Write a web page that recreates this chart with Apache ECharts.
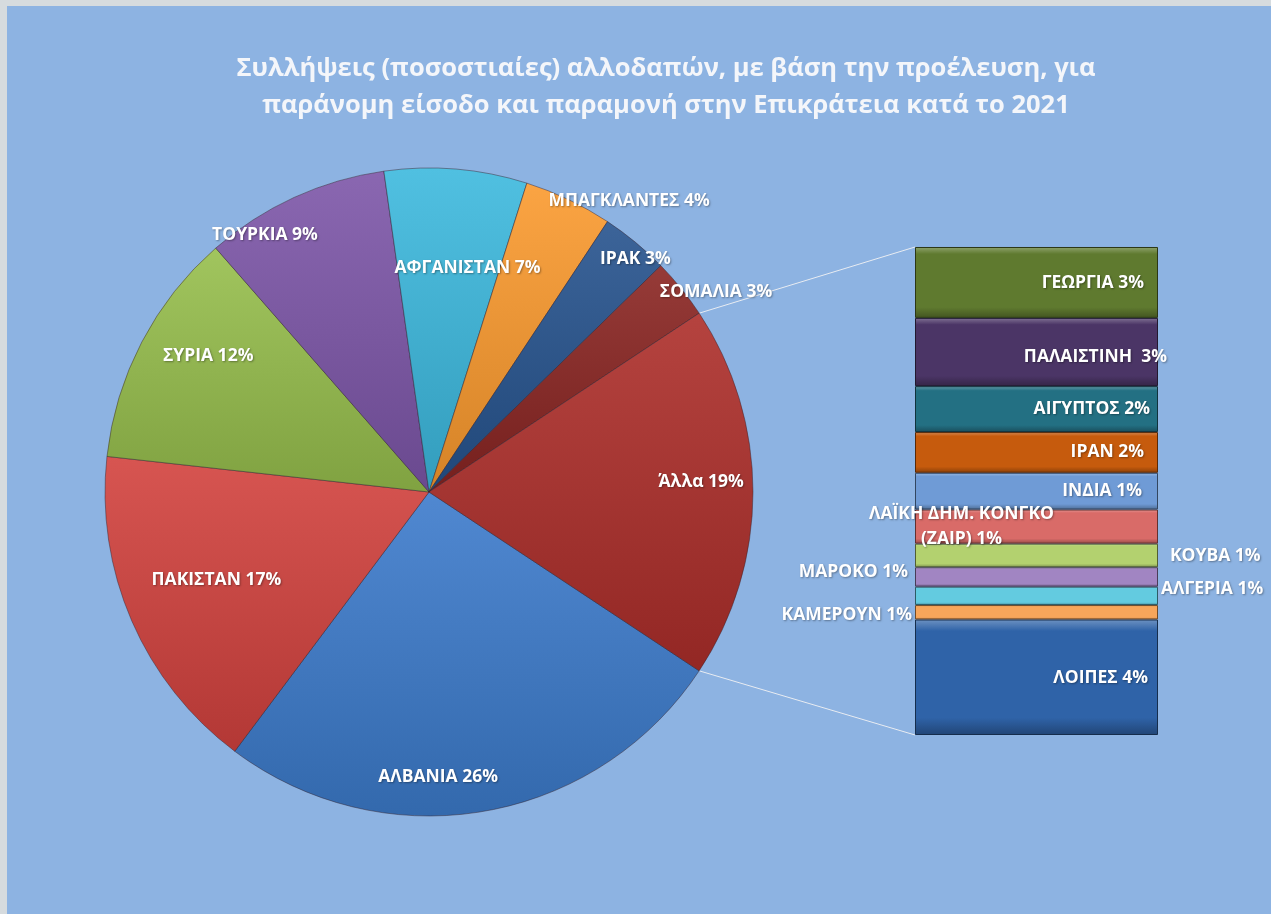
<!DOCTYPE html>
<html>
<head>
<meta charset="utf-8">
<style type="text/css">
body { margin: 0; background: #d6dbde; }
#main { position: absolute; left: 7px; top: 6px; width: 1264px; height: 908px; }
</style>
<script type="text/javascript" src="https://cdn.jsdelivr.net/npm/echarts@6/dist/echarts.min.js"></script>
</head>
<body>
<div id="main"></div>
<script type="text/javascript">
// main pie (percent of all arrests)
var pieNames = ['ΑΛΒΑΝΙΑ', 'ΠΑΚΙΣΤΑΝ', 'ΣΥΡΙΑ', 'ΤΟΥΡΚΙΑ', 'ΑΦΓΑΝΙΣΤΑΝ', 'ΜΠΑΓΚΛΑΝΤΕΣ', 'ΙΡΑΚ', 'ΣΟΜΑΛΙΑ'];
var pieValues = [25.9, 16.5, 11.8, 9.2, 7.1, 4.4, 3.4, 3.0];
var otherName = 'Άλλα';
// breakdown of "Άλλα", top to bottom
var subNames = ['ΓΕΩΡΓΙΑ', 'ΠΑΛΑΙΣΤΙΝΗ ', 'ΑΙΓΥΠΤΟΣ', 'ΙΡΑΝ', 'ΙΝΔΙΑ', 'ΛΑΪΚΗ ΔΗΜ. ΚΟΝΓΚΟ (ΖΑΙΡ)', 'ΚΟΥΒΑ', 'ΜΑΡΟΚΟ', 'ΑΛΓΕΡΙΑ', 'ΚΑΜΕΡΟΥΝ', 'ΛΟΙΠΕΣ'];
var subValues = [2.7, 2.6, 1.75, 1.55, 1.4, 1.3, 0.9, 0.74, 0.7, 0.55, 4.4];
var titleLines = ['Συλλήψεις (ποσοστιαίες) αλλοδαπών, με βάση την προέλευση, για',
	'παράνομη είσοδο και παραμονή στην Επικράτεια κατά το 2021'];

// look
var pieColors = ['#3c7bcc', '#d2423e', '#97bf4c', '#7d56a8', '#3cb9de', '#fa9a2e', '#26538e', '#8a2522', '#ad2e2a'];
var subColors = ['#5f7a2f', '#4b3566', '#237083', '#c65b0d', '#6f9bd6', '#d96b68', '#b3d16f', '#a185c2', '#63cbe0', '#f7a65b', '#2f63a8'];
// label spot in the pie: [radius factor, angle shift in degrees]
var pieLabelSpot = [[0.88, 8], [0.71, 1], [0.8, 4], [0.94, -8], [0.7, 5], [1.09, 9], [0.96, 2], [1.08, 4], [0.84, -2]];
// label spot on the bar: [position, distance, dx, dy]
var subLabelSpot = [
	['insideRight', 14, 0, 1], ['insideRight', 14, 23, 5], ['insideRight', 8, 0, 0],
	['insideRight', 14, 0, 0], ['insideRight', 16, 0, 0], ['inside', 0, -75, 0],
	['right', 12, 0, 1], ['left', 7, 0, -5], ['right', 3, 0, -7],
	['left', 3, 0, 3], ['insideRight', 10, 0, 1]
];

var FONT = '"Open Sans", "Noto Sans", sans-serif';
var CX = 422, CY = 486, R = 324;
var BX = 908, BY = 241, BW = 243, BH = 488;

var otherValue = subValues.reduce(function (a, b) { return a + b; }, 0);
var total = pieValues.reduce(function (a, b) { return a + b; }, 0) + otherValue;
var halfOther = otherValue / total * 180; // degrees below / above 3 o'clock

function pct(v) { return Math.round(v / total * 100) + '%'; }

function shade(hex, k) {
	var n = parseInt(hex.slice(1), 16), c = [n >> 16, (n >> 8) & 255, n & 255];
	c = c.map(function (x) {
		x = k > 0 ? x + (255 - x) * k : x * (1 + k);
		return Math.round(Math.max(0, Math.min(255, x)));
	});
	return 'rgb(' + c.join(',') + ')';
}

function pieFill(col) {
	return new echarts.graphic.LinearGradient(0, 0, 0, 1, [
		{ offset: 0, color: shade(col, 0.1) },
		{ offset: 1, color: shade(col, -0.15) }
	]);
}

function barFill(col) {
	return new echarts.graphic.LinearGradient(0, 0, 0, 1, [
		{ offset: 0, color: shade(col, 0.3) },
		{ offset: 0.1, color: col },
		{ offset: 0.85, color: col },
		{ offset: 1, color: shade(col, -0.3) }
	]);
}

var pieData = pieNames.map(function (n, i) {
	return { name: n, value: pieValues[i], itemStyle: { color: pieFill(pieColors[i]) } };
});
pieData.push({ name: otherName, value: otherValue, itemStyle: { color: pieFill(pieColors[8]) } });

// mid angles (screen, clockwise from 3 o'clock)
var midAngles = [], acc = halfOther;
pieData.forEach(function (d) {
	var a = d.value / total * 360;
	midAngles.push(acc + a / 2);
	acc += a;
});

var labelText = {
	color: '#ffffff',
	fontFamily: FONT,
	fontWeight: 'bold',
	fontSize: 17.5,
	textShadowColor: 'rgba(0,0,0,0.35)',
	textShadowBlur: 2,
	textShadowOffsetX: 1,
	textShadowOffsetY: 1
};

var barSeries = [];
for (var i = subNames.length - 1; i >= 0; i--) {
	var sp = subLabelSpot[i];
	barSeries.push({
		type: 'bar',
		name: subNames[i],
		stack: 'other',
		barWidth: BW,
		data: [subValues[i]],
		itemStyle: { color: barFill(subColors[i]), borderColor: shade(subColors[i], -0.55), borderWidth: 1 },
		label: Object.assign({
			show: true,
			position: sp[0],
			distance: sp[1],
			offset: [sp[2], sp[3]],
			align: sp[0] === 'inside' ? 'center' : undefined,
			lineHeight: 25,
			formatter: (function (n, v) {
				return function () { return n.replace(' (', '\n(') + ' ' + pct(v); };
			})(subNames[i], subValues[i])
		}, labelText)
	});
}

var topPt = [CX + R * Math.cos(-halfOther * Math.PI / 180), CY + R * Math.sin(-halfOther * Math.PI / 180)];
var botPt = [CX + R * Math.cos(halfOther * Math.PI / 180), CY + R * Math.sin(halfOther * Math.PI / 180)];

var chart = echarts.init(document.getElementById('main'));
chart.setOption({
	backgroundColor: '#8db3e2',
	animation: false,
	title: {
		text: titleLines.join('\n'),
		left: 654,
		textAlign: 'center',
		top: 39,
		textStyle: { color: '#f4f6fa', fontFamily: FONT, fontWeight: 'bold', fontSize: 25.5, lineHeight: 37 }
	},
	graphic: [
		{ type: 'line', z: 1, shape: { x1: topPt[0], y1: topPt[1], x2: BX, y2: BY }, style: { stroke: '#e8ecf2', lineWidth: 1 } },
		{ type: 'line', z: 1, shape: { x1: botPt[0], y1: botPt[1], x2: BX, y2: BY + BH }, style: { stroke: '#e8ecf2', lineWidth: 1 } }
	],
	grid: { left: BX, top: BY, width: BW, height: BH },
	xAxis: { type: 'category', data: [''], show: false },
	yAxis: { type: 'value', min: 0, max: otherValue, show: false },
	series: [{
		type: 'pie',
		center: [CX, CY],
		radius: R,
		startAngle: -halfOther,
		clockwise: true,
		avoidLabelOverlap: false,
		silent: true,
		data: pieData,
		itemStyle: { borderColor: 'rgba(50,30,40,0.45)', borderWidth: 1 },
		labelLine: { show: false },
		label: Object.assign({
			show: true,
			position: 'inside',
			formatter: function (p) { return p.name + ' ' + pct(p.value); }
		}, labelText),
		labelLayout: function (p) {
			var s = pieLabelSpot[p.dataIndex];
			var a = (midAngles[p.dataIndex] + s[1]) * Math.PI / 180;
			return {
				x: CX + s[0] * R * Math.cos(a),
				y: CY + s[0] * R * Math.sin(a),
				align: 'center',
				verticalAlign: 'middle'
			};
		}
	}].concat(barSeries)
});
</script>
</body>
</html>
